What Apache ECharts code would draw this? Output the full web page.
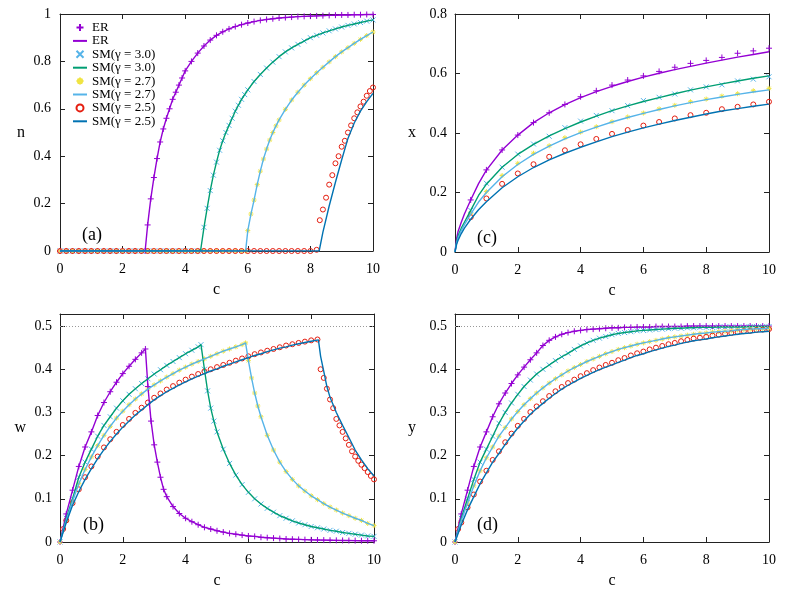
<!DOCTYPE html>
<html>
<head>
<meta charset="utf-8">
<script src="https://cdn.jsdelivr.net/npm/echarts@6/dist/echarts.min.js"></script>
<style>
  html, body { margin: 0; padding: 0; background: #fff; }
  #chart { width: 789px; height: 592px; }
</style>
</head>
<body>
<div id="chart"></div>
<script>
// ---- panel (a): n vs c ----
const aEr = [[0,0],[0.2,0],[0.4,0],[0.6,0],[0.8,0],[1,0],[1.2,0],[1.4,0],[1.6,0],[1.8,0],[2,0],[2.2,0],[2.4,0],[2.6,0],[2.72,0],
  [2.8,0.11],[2.9,0.22],[3.0,0.31],[3.1,0.39],[3.2,0.46],[3.3,0.515],[3.4,0.56],[3.5,0.60],[3.6,0.64],[3.7,0.67],[3.8,0.70],[3.9,0.73],[4.0,0.76],
  [4.2,0.80],[4.4,0.835],[4.6,0.865],[4.8,0.89],[5.0,0.91],[5.2,0.925],[5.4,0.937],[5.6,0.947],[5.8,0.955],[6.0,0.962],[6.2,0.968],[6.4,0.973],
  [6.6,0.977],[6.8,0.98],[7.0,0.983],[7.2,0.985],[7.4,0.987],[7.6,0.989],[7.8,0.99],[8.0,0.991],[8.2,0.992],[8.4,0.993],[8.6,0.994],[8.8,0.995],
  [9.0,0.996],[9.2,0.996],[9.4,0.997],[9.6,0.997],[9.8,0.998],[10,0.998]];
const aSm3 = [[0,0],[0.2,0],[0.4,0],[0.6,0],[0.8,0],[1,0],[1.2,0],[1.4,0],[1.6,0],[1.8,0],[2,0],[2.2,0],[2.4,0],[2.6,0],[2.8,0],[3,0],[3.2,0],
  [3.4,0],[3.6,0],[3.8,0],[4,0],[4.2,0],[4.4,0],[4.49,0],
  [4.6,0.10],[4.7,0.18],[4.8,0.255],[4.9,0.32],[5.0,0.375],[5.1,0.425],[5.2,0.465],[5.3,0.50],[5.4,0.53],[5.5,0.56],[5.6,0.59],[5.7,0.615],
  [5.8,0.64],[5.9,0.66],[6.0,0.68],[6.2,0.715],[6.4,0.745],[6.6,0.772],[6.8,0.797],[7.0,0.82],[7.2,0.84],[7.4,0.857],[7.6,0.872],[7.8,0.886],
  [8.0,0.9],[8.2,0.91],[8.4,0.92],[8.6,0.929],[8.8,0.937],[9.0,0.945],[9.2,0.952],[9.4,0.958],[9.6,0.964],[9.8,0.97],[10,0.975]];
const aSm27 = [[0,0],[0.2,0],[0.4,0],[0.6,0],[0.8,0],[1,0],[1.2,0],[1.4,0],[1.6,0],[1.8,0],[2,0],[2.2,0],[2.4,0],[2.6,0],[2.8,0],[3,0],[3.2,0],
  [3.4,0],[3.6,0],[3.8,0],[4,0],[4.2,0],[4.4,0],[4.6,0],[4.8,0],[5,0],[5.2,0],[5.4,0],[5.6,0],[5.8,0],[5.93,0],
  [6.0,0.086],[6.1,0.156],[6.2,0.215],[6.3,0.28],[6.4,0.337],[6.5,0.388],[6.6,0.43],[6.7,0.468],[6.8,0.50],[6.9,0.528],[7.0,0.553],[7.2,0.598],
  [7.4,0.637],[7.6,0.67],[7.8,0.70],[8.0,0.727],[8.2,0.752],[8.4,0.775],[8.6,0.798],[8.8,0.82],[9.0,0.84],[9.2,0.858],[9.4,0.876],[9.6,0.893],
  [9.8,0.909],[10,0.924]];
const aSm25Pts = [[0,0],[0.2,0],[0.4,0],[0.6,0],[0.8,0],[1,0],[1.2,0],[1.4,0],[1.6,0],[1.8,0],[2,0],[2.2,0],[2.4,0],[2.6,0],[2.8,0],[3,0],[3.2,0],
  [3.4,0],[3.6,0],[3.8,0],[4,0],[4.2,0],[4.4,0],[4.6,0],[4.8,0],[5,0],[5.2,0],[5.4,0],[5.6,0],[5.8,0],[6,0],[6.2,0],[6.4,0],[6.6,0],[6.8,0],
  [7,0],[7.2,0],[7.4,0],[7.6,0],[7.8,0],[8,0],[8.2,0.005],
  [8.3,0.13],[8.4,0.175],[8.5,0.225],[8.6,0.28],[8.7,0.32],[8.8,0.37],[8.9,0.40],[9.0,0.44],[9.1,0.465],[9.2,0.50],[9.3,0.53],[9.4,0.56],
  [9.5,0.585],[9.6,0.61],[9.7,0.63],[9.8,0.655],[9.9,0.675],[10,0.69]];
const aSm25Line = [[0,0],[8.28,0],[8.4,0.08],[8.6,0.19],[8.8,0.29],[9.0,0.385],[9.2,0.475],[9.4,0.54],[9.6,0.59],[9.8,0.63],[10,0.665]];

// ---- panel (b): w vs c ----
const bEr = [[0,0],[0.2,0.065],[0.4,0.12],[0.6,0.175],[0.8,0.22],[1.0,0.255],[1.2,0.293],[1.4,0.323],[1.6,0.348],[1.8,0.37],[2.0,0.39],
  [2.2,0.407],[2.4,0.423],[2.6,0.438],[2.72,0.447],[2.8,0.36],[2.9,0.28],[3.0,0.225],[3.1,0.185],[3.2,0.15],[3.3,0.122],[3.4,0.105],[3.6,0.082],
  [3.8,0.066],[4.0,0.055],[4.2,0.047],[4.4,0.04],[4.6,0.034],[4.8,0.03],[5.0,0.026],[5.2,0.023],[5.4,0.02],[5.6,0.018],[5.8,0.016],[6.0,0.014],
  [6.2,0.013],[6.4,0.011],[6.6,0.01],[6.8,0.009],[7.0,0.008],[7.2,0.007],[7.4,0.0065],[7.6,0.006],[7.8,0.0055],[8.0,0.005],[8.2,0.0047],
  [8.4,0.0044],[8.6,0.0041],[8.8,0.0038],[9.0,0.0036],[9.2,0.0034],[9.4,0.0032],[9.6,0.003],[9.8,0.0029],[10,0.0028]];
const bSm3 = [[0,0],[0.2,0.055],[0.4,0.1],[0.6,0.15],[0.8,0.185],[1.0,0.215],[1.2,0.245],[1.4,0.27],[1.6,0.29],[1.8,0.31],[2.0,0.327],
  [2.2,0.342],[2.4,0.355],[2.6,0.367],[2.8,0.378],[3.0,0.389],[3.2,0.399],[3.4,0.409],[3.6,0.418],[3.8,0.427],[4.0,0.436],[4.2,0.444],
  [4.4,0.452],[4.49,0.457],[4.6,0.40],[4.7,0.35],[4.8,0.31],[4.9,0.28],[5.0,0.255],[5.2,0.215],[5.4,0.182],[5.6,0.155],[5.8,0.133],[6.0,0.115],
  [6.2,0.1],[6.4,0.088],[6.6,0.078],[6.8,0.069],[7.0,0.061],[7.2,0.055],[7.4,0.049],[7.6,0.044],[7.8,0.04],[8.0,0.036],[8.2,0.033],[8.4,0.03],
  [8.6,0.027],[8.8,0.025],[9.0,0.022],[9.2,0.02],[9.4,0.018],[9.6,0.016],[9.8,0.014],[10,0.013]];
const bSm27 = [[0,0],[0.2,0.05],[0.4,0.095],[0.6,0.135],[0.8,0.168],[1.0,0.197],[1.2,0.223],[1.4,0.247],[1.6,0.268],[1.8,0.287],[2.0,0.303],
  [2.2,0.318],[2.4,0.331],[2.6,0.343],[2.8,0.354],[3.0,0.364],[3.2,0.373],[3.4,0.382],[3.6,0.39],[3.8,0.398],[4.0,0.405],[4.2,0.412],[4.4,0.418],
  [4.6,0.424],[4.8,0.43],[5.0,0.436],[5.2,0.442],[5.4,0.447],[5.6,0.452],[5.8,0.457],[5.91,0.461],[6.0,0.42],[6.1,0.38],[6.2,0.345],[6.3,0.315],
  [6.4,0.29],[6.6,0.247],[6.8,0.213],[7.0,0.185],[7.2,0.163],[7.4,0.145],[7.6,0.13],[7.8,0.118],[8.0,0.107],[8.2,0.098],[8.4,0.089],[8.6,0.081],
  [8.8,0.074],[9.0,0.067],[9.2,0.061],[9.4,0.055],[9.6,0.05],[9.8,0.043],[10,0.038]];
const bSm25Pts = [[0.1,0.03],[0.2,0.05],[0.4,0.09],[0.6,0.122],[0.8,0.15],[1.0,0.175],[1.2,0.198],[1.4,0.219],[1.6,0.238],[1.8,0.255],
  [2.0,0.271],[2.2,0.285],[2.4,0.299],[2.6,0.311],[2.8,0.323],[3.0,0.334],[3.2,0.344],[3.4,0.353],[3.6,0.361],[3.8,0.369],[4.0,0.376],
  [4.2,0.383],[4.4,0.389],[4.6,0.395],[4.8,0.4],[5.0,0.405],[5.2,0.41],[5.4,0.415],[5.6,0.42],[5.8,0.425],[6.0,0.43],[6.2,0.435],[6.4,0.439],
  [6.6,0.443],[6.8,0.447],[7.0,0.451],[7.2,0.455],[7.4,0.458],[7.6,0.461],[7.8,0.464],[8.0,0.467],[8.2,0.469],[8.3,0.40],[8.4,0.38],[8.5,0.355],
  [8.6,0.33],[8.7,0.31],[8.8,0.285],[8.9,0.27],[9.0,0.255],[9.1,0.24],[9.2,0.225],[9.3,0.21],[9.4,0.198],[9.5,0.188],[9.6,0.179],[9.7,0.171],
  [9.8,0.162],[9.9,0.153],[10,0.145]];
const bSm25Line = [[0,0],[0.2,0.045],[0.4,0.085],[0.6,0.117],[0.8,0.145],[1.0,0.17],[1.2,0.193],[1.4,0.214],[1.6,0.233],[1.8,0.25],[2.0,0.266],
  [2.2,0.28],[2.4,0.294],[2.6,0.306],[2.8,0.318],[3.0,0.329],[3.2,0.339],[3.4,0.348],[3.6,0.356],[3.8,0.364],[4.0,0.371],[4.2,0.378],[4.4,0.384],
  [4.6,0.39],[4.8,0.396],[5.0,0.401],[5.2,0.407],[5.4,0.412],[5.6,0.417],[5.8,0.422],[6.0,0.427],[6.2,0.432],[6.4,0.436],[6.6,0.441],[6.8,0.445],
  [7.0,0.449],[7.2,0.452],[7.4,0.456],[7.6,0.459],[7.8,0.462],[8.0,0.465],[8.23,0.468],[8.3,0.43],[8.4,0.395],[8.5,0.36],[8.6,0.335],[8.8,0.30],
  [9.0,0.27],[9.2,0.242],[9.4,0.213],[9.6,0.19],[9.8,0.17],[10,0.153]];

// ---- panel (c): x vs c ----
const cErPts = [[0.5,0.175],[1,0.276],[1.5,0.343],[2,0.393],[2.5,0.435],[3,0.468],[3.5,0.496],[4,0.522],[4.5,0.542],[5,0.561],[5.5,0.578],
  [6,0.592],[6.5,0.607],[7,0.621],[7.5,0.634],[8,0.644],[8.5,0.654],[9,0.668],[9.5,0.676],[10,0.685]];
const cErLine = [[0,0],[0.05,0.045],[0.1,0.07],[0.2,0.1],[0.3,0.128],[0.5,0.175],[0.75,0.23],[1,0.275],[1.5,0.343],[2,0.393],[2.5,0.435],
  [3,0.468],[3.5,0.495],[4,0.519],[4.5,0.539],[5,0.557],[5.5,0.573],[6,0.588],[6.5,0.601],[7,0.613],[7.5,0.624],[8,0.635],[8.5,0.645],
  [9,0.655],[9.5,0.664],[10,0.673]];
const cSm3Pts = [[0.5,0.14],[1,0.231],[1.5,0.285],[2,0.329],[2.5,0.363],[3,0.389],[3.5,0.418],[4,0.44],[4.5,0.459],[5,0.475],[5.5,0.492],
  [6,0.509],[6.5,0.52],[7,0.531],[7.5,0.545],[8,0.555],[8.5,0.562],[9,0.575],[9.5,0.581],[10,0.589]];
const cSm3Line = [[0,0],[0.05,0.035],[0.1,0.055],[0.2,0.08],[0.3,0.1],[0.5,0.14],[0.75,0.19],[1,0.228],[1.5,0.285],[2,0.328],[2.5,0.362],
  [3,0.39],[3.5,0.415],[4,0.437],[4.5,0.457],[5,0.475],[5.5,0.491],[6,0.506],[6.5,0.519],[7,0.532],[7.5,0.544],[8,0.555],[8.5,0.565],
  [9,0.575],[9.5,0.584],[10,0.592]];
const cSm27Pts = [[0.5,0.13],[1,0.203],[1.5,0.257],[2,0.298],[2.5,0.332],[3,0.357],[3.5,0.384],[4,0.403],[4.5,0.421],[5,0.438],[5.5,0.454],
  [6,0.467],[6.5,0.481],[7,0.493],[7.5,0.505],[8,0.514],[8.5,0.524],[9,0.532],[9.5,0.542],[10,0.55]];
const cSm27Line = [[0,0],[0.05,0.03],[0.1,0.048],[0.2,0.072],[0.3,0.092],[0.5,0.127],[0.75,0.168],[1,0.2],[1.5,0.253],[2,0.294],[2.5,0.328],
  [3,0.356],[3.5,0.38],[4,0.401],[4.5,0.42],[5,0.437],[5.5,0.452],[6,0.466],[6.5,0.479],[7,0.491],[7.5,0.502],[8,0.512],[8.5,0.521],
  [9,0.53],[9.5,0.538],[10,0.545]];
const cSm25Pts = [[0.5,0.117],[1,0.18],[1.5,0.229],[2,0.264],[2.5,0.295],[3,0.32],[3.5,0.342],[4,0.362],[4.5,0.38],[5,0.397],[5.5,0.41],
  [6,0.425],[6.5,0.437],[7,0.449],[7.5,0.46],[8,0.468],[8.5,0.48],[9,0.488],[9.5,0.496],[10,0.505]];
const cSm25Line = [[0,0],[0.05,0.025],[0.1,0.04],[0.2,0.062],[0.3,0.08],[0.5,0.11],[0.75,0.142],[1,0.169],[1.5,0.216],[2,0.253],[2.5,0.284],
  [3,0.31],[3.5,0.332],[4,0.352],[4.5,0.37],[5,0.388],[5.5,0.403],[6,0.417],[6.5,0.43],[7,0.442],[7.5,0.453],[8,0.464],[8.5,0.474],
  [9,0.482],[9.5,0.49],[10,0.497]];

// ---- panel (d): y vs c ----
const dEr = [[0,0],[0.2,0.065],[0.4,0.12],[0.6,0.175],[0.8,0.22],[1.0,0.255],[1.2,0.29],[1.4,0.32],[1.6,0.345],[1.8,0.367],[2.0,0.387],
  [2.2,0.405],[2.4,0.422],[2.6,0.438],[2.8,0.455],[3.0,0.467],[3.2,0.475],[3.4,0.481],[3.6,0.485],[3.8,0.488],[4.0,0.49],[4.2,0.492],
  [4.4,0.493],[4.6,0.494],[4.8,0.495],[5.0,0.496],[5.2,0.496],[5.4,0.497],[5.6,0.497],[5.8,0.498],[6.0,0.498],[6.2,0.498],[6.4,0.499],
  [6.6,0.499],[6.8,0.499],[7.0,0.499],[7.2,0.499],[7.4,0.5],[7.6,0.5],[7.8,0.5],[8.0,0.5],[8.2,0.5],[8.4,0.5],[8.6,0.5],[8.8,0.5],[9.0,0.5],
  [9.2,0.5],[9.4,0.5],[9.6,0.5],[9.8,0.5],[10,0.5]];
const dSm3 = [[0,0],[0.2,0.055],[0.4,0.1],[0.6,0.145],[0.8,0.185],[1.0,0.215],[1.2,0.245],[1.4,0.275],[1.6,0.3],[1.8,0.322],[2.0,0.342],
  [2.2,0.36],[2.4,0.375],[2.6,0.389],[2.8,0.4],[3.0,0.41],[3.2,0.42],[3.4,0.429],[3.6,0.437],[3.8,0.446],[4.0,0.454],[4.2,0.461],[4.4,0.467],
  [4.6,0.472],[4.8,0.476],[5.0,0.48],[5.2,0.483],[5.4,0.485],[5.6,0.487],[5.8,0.489],[6.0,0.49],[6.2,0.491],[6.4,0.492],[6.6,0.493],[6.8,0.494],
  [7.0,0.495],[7.2,0.495],[7.4,0.496],[7.6,0.496],[7.8,0.497],[8.0,0.497],[8.2,0.497],[8.4,0.498],[8.6,0.498],[8.8,0.498],[9.0,0.498],
  [9.2,0.498],[9.4,0.499],[9.6,0.499],[9.8,0.499],[10,0.499]];
const dSm27 = [[0,0],[0.2,0.05],[0.4,0.09],[0.6,0.13],[0.8,0.165],[1.0,0.195],[1.2,0.22],[1.4,0.245],[1.6,0.265],[1.8,0.285],[2.0,0.302],
  [2.2,0.318],[2.4,0.332],[2.6,0.345],[2.8,0.357],[3.0,0.368],[3.2,0.378],[3.4,0.387],[3.6,0.396],[3.8,0.404],[4.0,0.411],[4.2,0.418],
  [4.4,0.424],[4.6,0.43],[4.8,0.436],[5.0,0.441],[5.2,0.446],[5.4,0.45],[5.6,0.454],[5.8,0.458],[6.0,0.461],[6.2,0.464],[6.4,0.467],[6.6,0.47],
  [6.8,0.473],[7.0,0.475],[7.2,0.477],[7.4,0.479],[7.6,0.481],[7.8,0.483],[8.0,0.484],[8.2,0.486],[8.4,0.487],[8.6,0.488],[8.8,0.489],
  [9.0,0.491],[9.2,0.492],[9.4,0.493],[9.6,0.494],[9.8,0.494],[10,0.495]];
const dSm25Pts = [[0.1,0.03],[0.2,0.045],[0.4,0.08],[0.6,0.11],[0.8,0.14],[1.0,0.165],[1.2,0.19],[1.4,0.21],[1.6,0.231],[1.8,0.251],[2.0,0.269],
  [2.2,0.285],[2.4,0.301],[2.6,0.314],[2.8,0.326],[3.0,0.338],[3.2,0.349],[3.4,0.359],[3.6,0.368],[3.8,0.376],[4.0,0.384],[4.2,0.391],
  [4.4,0.398],[4.6,0.404],[4.8,0.41],[5.0,0.415],[5.2,0.421],[5.4,0.426],[5.6,0.432],[5.8,0.437],[6.0,0.441],[6.2,0.446],[6.4,0.45],[6.6,0.454],
  [6.8,0.458],[7.0,0.461],[7.2,0.465],[7.4,0.468],[7.6,0.471],[7.8,0.473],[8.0,0.475],[8.2,0.478],[8.4,0.48],[8.6,0.482],[8.8,0.484],
  [9.0,0.486],[9.2,0.488],[9.4,0.489],[9.6,0.491],[9.8,0.492],[10,0.493]];
const dSm25Line = [[0,0],[0.2,0.04],[0.4,0.075],[0.6,0.105],[0.8,0.135],[1.0,0.16],[1.2,0.185],[1.4,0.205],[1.6,0.226],[1.8,0.246],[2.0,0.264],
  [2.2,0.28],[2.4,0.296],[2.6,0.309],[2.8,0.321],[3.0,0.333],[3.2,0.344],[3.4,0.354],[3.6,0.363],[3.8,0.371],[4.0,0.379],[4.2,0.386],
  [4.4,0.393],[4.6,0.399],[4.8,0.405],[5.0,0.41],[5.2,0.416],[5.4,0.421],[5.6,0.427],[5.8,0.432],[6.0,0.436],[6.2,0.441],[6.4,0.445],
  [6.6,0.449],[6.8,0.453],[7.0,0.456],[7.2,0.46],[7.4,0.463],[7.6,0.466],[7.8,0.468],[8.0,0.47],[8.2,0.473],[8.4,0.475],[8.6,0.477],
  [8.8,0.479],[9.0,0.481],[9.2,0.483],[9.4,0.484],[9.6,0.486],[9.8,0.487],[10,0.488]];

const names = ['ER', 'ER ', 'SM(γ = 3.0)', 'SM(γ = 3.0) ', 'SM(γ = 2.7)', 'SM(γ = 2.7) ', 'SM(γ = 2.5)', 'SM(γ = 2.5) '];
const panelLabels = ['(a)', '(c)', '(b)', '(d)'];
const yNames = ['n', 'x', 'w', 'y'];

const FONT = 'Liberation Serif';
const PURPLE = '#9400d3', GREEN = '#009e73', SKY = '#56b4e9', YELLOW = '#f0e442', RED = '#e51e10', BLUE = '#0072b2';
const PLUS = 'path://M5,0L5,10M0,5L10,5';
const CROSS = 'path://M0,0L10,10M0,10L10,0';
const STAR = 'path://M5,0L5,10M0,5L10,5M1.5,1.5L8.5,8.5M1.5,8.5L8.5,1.5';

const grids = [
  { left: 60, top: 14, width: 313, height: 237 },
  { left: 455, top: 14, width: 314, height: 238 },
  { left: 60, top: 314, width: 314, height: 228 },
  { left: 455, top: 314, width: 314, height: 228 }
];
const yMax = [1, 0.8, 0.528, 0.528];
const yStep = [0.2, 0.2, 0.1, 0.1];
const yLabelMargin = [9, 8, 8, 8];
const yNameGap = [35, 39, 34, 39];

const lineCol = '#222';
const xAxes = [], yAxes = [];
grids.forEach((g, i) => {
  const common = {
    gridIndex: i, type: 'value', splitLine: { show: false },
    axisLine: { show: true, onZero: false, lineStyle: { color: lineCol, width: 1 } },
    axisTick: { show: true, inside: true, length: 5, lineStyle: { color: lineCol } }
  };
  xAxes.push(Object.assign({}, common, {
    position: 'bottom', min: 0, max: 10, interval: 2,
    axisLabel: { margin: 11, color: '#000', fontFamily: FONT, fontSize: 14 },
    name: 'c', nameLocation: 'middle', nameGap: 31,
    nameTextStyle: { color: '#000', fontFamily: FONT, fontSize: 16 }
  }));
  xAxes.push(Object.assign({}, common, {
    position: 'top', min: 0, max: 10, interval: 2, axisLabel: { show: false }
  }));
  const steps = yMax[i] / yStep[i];
  const offGrid = Math.abs(steps - Math.round(steps)) > 1e-6;
  yAxes.push(Object.assign({}, common, {
    position: 'left', min: 0, max: yMax[i], interval: yStep[i],
    axisLabel: {
      margin: yLabelMargin[i], color: '#000', fontFamily: FONT, fontSize: 14,
      formatter: v => (offGrid && v > yMax[i] - 1e-9) ? '' : String(Math.round(v * 10) / 10)
    },
    name: yNames[i], nameLocation: 'middle', nameRotate: 0, nameGap: yNameGap[i],
    nameTextStyle: { color: '#000', fontFamily: FONT, fontSize: 16 }
  }));
  yAxes.push(Object.assign({}, common, {
    position: 'right', min: 0, max: yMax[i], interval: yStep[i], axisLabel: { show: false }
  }));
});

function pts(name, data, i, symbol, color, size) {
  return {
    name, type: 'scatter', data, xAxisIndex: 2 * i, yAxisIndex: 2 * i,
    symbol, symbolSize: size, silent: true,
    itemStyle: { color: 'rgba(255,255,255,0)', borderColor: color, borderWidth: 1, opacity: 1 }
  };
}
function curve(name, data, i, color) {
  return {
    name, type: 'line', data, xAxisIndex: 2 * i, yAxisIndex: 2 * i,
    symbol: 'none', showSymbol: false, silent: true,
    lineStyle: { color, width: 1.4 },
    itemStyle: { color: 'rgba(0,0,0,0)', borderWidth: 0 }
  };
}
function halfLine(i) {
  return {
    type: 'line', data: [], xAxisIndex: 2 * i, yAxisIndex: 2 * i, silent: true,
    markLine: {
      silent: true, symbol: 'none', label: { show: false },
      lineStyle: { color: '#999', type: [1, 2], width: 1 },
      data: [{ yAxis: 0.5 }]
    }
  };
}

const series = [
  // (a)
  pts(names[0], aEr, 0, PLUS, PURPLE, 6), curve(names[1], aEr, 0, PURPLE),
  pts(names[2], aSm3, 0, CROSS, SKY, 5), curve(names[3], aSm3, 0, GREEN),
  pts(names[4], aSm27, 0, STAR, YELLOW, 5), curve(names[5], aSm27, 0, SKY),
  pts(names[6], aSm25Pts, 0, 'circle', RED, 5), curve(names[7], aSm25Line, 0, BLUE),
  // (c)
  pts(names[0], cErPts, 1, PLUS, PURPLE, 6), curve(names[1], cErLine, 1, PURPLE),
  pts(names[2], cSm3Pts, 1, CROSS, SKY, 5), curve(names[3], cSm3Line, 1, GREEN),
  pts(names[4], cSm27Pts, 1, STAR, YELLOW, 5), curve(names[5], cSm27Line, 1, SKY),
  pts(names[6], cSm25Pts, 1, 'circle', RED, 5), curve(names[7], cSm25Line, 1, BLUE),
  // (b)
  halfLine(2),
  pts(names[0], bEr, 2, PLUS, PURPLE, 6), curve(names[1], bEr, 2, PURPLE),
  pts(names[2], bSm3, 2, CROSS, SKY, 5), curve(names[3], bSm3, 2, GREEN),
  pts(names[4], bSm27, 2, STAR, YELLOW, 5), curve(names[5], bSm27, 2, SKY),
  pts(names[6], bSm25Pts, 2, 'circle', RED, 5), curve(names[7], bSm25Line, 2, BLUE),
  // (d)
  halfLine(3),
  pts(names[0], dEr, 3, PLUS, PURPLE, 6), curve(names[1], dEr, 3, PURPLE),
  pts(names[2], dSm3, 3, CROSS, SKY, 5), curve(names[3], dSm3, 3, GREEN),
  pts(names[4], dSm27, 3, STAR, YELLOW, 5), curve(names[5], dSm27, 3, SKY),
  pts(names[6], dSm25Pts, 3, 'circle', RED, 5), curve(names[7], dSm25Line, 3, BLUE)
];

const labelPos = [[82, 226], [477, 229], [83, 516], [477, 516]];
const titles = panelLabels.map((t, i) => ({
  text: t, left: labelPos[i][0], top: labelPos[i][1], padding: 0,
  textStyle: { fontFamily: FONT, fontSize: 18, fontWeight: 'normal', color: '#000' }
}));

// line entries in the legend: hide the default symbol, keep only the stroke
const legendData = names.map((n, k) => k % 2 === 1 ? { name: n, itemStyle: { opacity: 0 } } : { name: n });

const chart = echarts.init(document.getElementById('chart'), null, { renderer: 'canvas' });
chart.setOption({
  animation: false,
  backgroundColor: '#fff',
  title: titles,
  grid: grids,
  xAxis: xAxes,
  yAxis: yAxes,
  legend: {
    data: legendData, orient: 'vertical', left: 72, top: 21, padding: 0,
    itemWidth: 14, itemHeight: 7, itemGap: 0.4, selectedMode: false,
    textStyle: { fontFamily: FONT, fontSize: 13, color: '#000', lineHeight: 13 }
  },
  series
});
</script>
</body>
</html>
